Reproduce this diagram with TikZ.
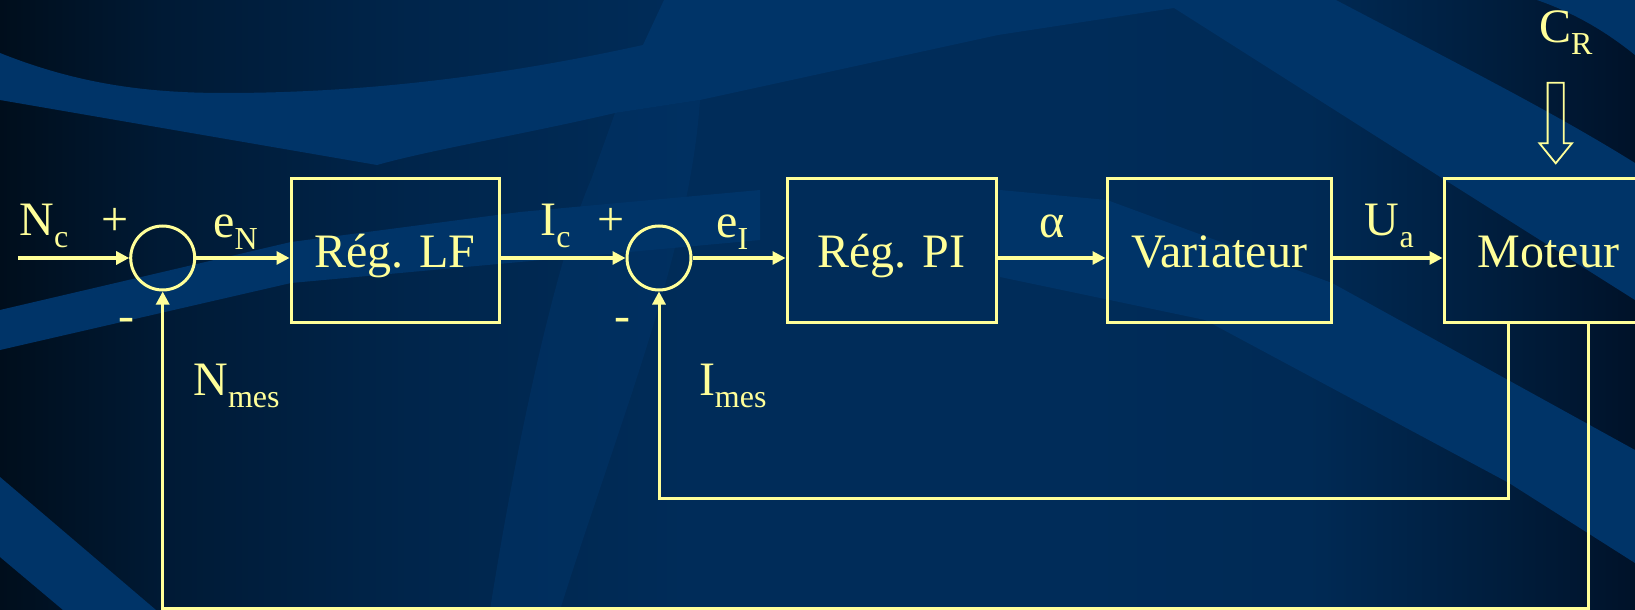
\documentclass[tikz,border=0pt]{standalone}
\usepackage{fontspec}
\setmainfont{Liberation Serif}
\usetikzlibrary{arrows.meta}
\definecolor{ylw}{HTML}{FFFF99}
\definecolor{bandc}{HTML}{003468}
\definecolor{gA}{HTML}{000E1C}
\definecolor{gB}{HTML}{001A35}
\definecolor{gC}{HTML}{00254B}
\definecolor{gD}{HTML}{002C59}
\definecolor{gE}{HTML}{002A55}
\definecolor{gF}{HTML}{001D3C}
\definecolor{gG}{HTML}{001229}
\pgfdeclarehorizontalshading{bgshade}{100bp}{color(0bp)=(gA); color(25bp)=(gA); color(30bp)=(gB); color(37.5bp)=(gC); color(46bp)=(gD); color(58bp)=(gD); color(65bp)=(gE); color(71bp)=(gF); color(75bp)=(gG); color(100bp)=(gG)}
\newcommand{\sbs}[1]{\raisebox{-6pt}{\fontsize{16}{16}\selectfont #1}}
\begin{document}
\begin{tikzpicture}[x=0.5pt,y=-0.5pt,
  line/.style={draw=ylw, line width=1.5pt},
  arr/.style={line, -{Triangle[length=6.5pt,width=6.5pt]}},
  blk/.style={draw=ylw, line width=1.5pt, text=ylw, minimum height=71.5pt, inner sep=0pt,
    font=\fontsize{24}{24}\selectfont, text height=24.5pt, text depth=8pt},
  sumc/.style={draw=ylw, line width=1.5pt, circle, minimum size=32pt, inner sep=0pt},
  lbl/.style={text=ylw, inner sep=0pt, font=\fontsize{24}{24}\selectfont},
  bg/.style={fill=bandc, draw=none}]
\useasboundingbox (0,0) rectangle (1635,610);
% background
\begin{scope}
\clip (0,0) rectangle (1635,610);
\shade[shading=bgshade] (0,0) rectangle (1635,610);
\path[bg, fill opacity=0.55] (615,113) -- (700,100) .. controls (690,250) and (620,420) .. (560,610)
  -- (490,610) .. controls (520,420) and (560,250) .. (591,180) -- cycle;
\path[bg] (0,53) .. controls (80,85) and (150,93) .. (225,93)
  .. controls (380,93) and (520,72) .. (643,45) -- (664,0) -- (1336,0)
  .. controls (1450,60) and (1550,110) .. (1635,163) -- (1635,300)
  -- (1445,180) -- (1174,8) -- (998,35) -- (700,100) -- (615,113)
  .. controls (520,135) and (430,150) .. (377,165) -- (0,100) -- cycle;
\path[bg] (1537,0) .. controls (1580,15) and (1610,35) .. (1635,55) -- (1635,0) -- cycle;
\path[bg] (0,310) -- (291,242) -- (520,212) -- (760,190) -- (760,240) -- (520,262) -- (291,283) -- (0,350) -- cycle;
\path[bg] (0,477) -- (156,610) -- (63,610) -- (0,557) -- cycle;
\path[bg] (1000,190) -- (1107,200) -- (1332,283) -- (1635,450) -- (1635,563)
  -- (1509,483) -- (1205,320) -- (1000,277) -- cycle;
\end{scope}
% blocks
\node[sumc] (s1) at (162.7,258) {};
\node[sumc] (s2) at (659,258) {};
\node[blk, minimum width=104pt] (lf) at (395,250.5) {Rég. LF};
\node[blk, minimum width=104.5pt] (pi) at (891.5,250.5) {Rég. PI};
\node[blk, minimum width=112pt] (var) at (1219,250.5) {Variateur};
\node[blk, minimum width=96.5pt] (mot) at (1540.5,250.5) {\hspace*{8pt}Moteur};
% labels
\node[lbl, anchor=base west] (lnc) at (19,235) {N\sbs{c}};
\node[lbl, anchor=base] (lp1) at (115,235) {+};
\node[lbl, anchor=base] (lm1) at (126,331) {-};
\node[lbl, anchor=base west] (len) at (213,237) {e\sbs{N}};
\node[lbl, anchor=base west] (lnm) at (193,395) {N\sbs{mes}};
\node[lbl, anchor=base west] (lic) at (540,235) {I\sbs{c}};
\node[lbl, anchor=base] (lp2) at (611,235) {+};
\node[lbl, anchor=base] (lm2) at (622.5,331) {-};
\node[lbl, anchor=base west] (lei) at (716,237) {e\sbs{I}};
\node[lbl, anchor=base west] (lim) at (698.6,395) {I\sbs{mes}};
\node[lbl, anchor=base] (lal) at (1052,237) {α};
\node[lbl, anchor=base west] (lua) at (1364.5,235) {U\sbs{a}};
\node[lbl, anchor=base west] (lcr) at (1538.7,43) {C\sbs{R}};
% connectors
\coordinate (in) at (18,258);
\draw[arr] (in) -- (s1.west);
\draw[arr] (s1.east) -- (s1.east -| lf.west);
\draw[arr] (lf.east |- s2.west) -- (s2.west);
\draw[arr] (s2.east) -- (s2.east -| pi.west);
\draw[arr] (pi.east |- s2.east) -- (var.west |- s2.east);
\draw[arr] (var.east |- s2.east) -- (mot.west |- s2.east);
\coordinate (k1) at (1508,498);
\coordinate (k2) at (1588,608.5);
\draw[arr] (k1 |- mot.south) -- (k1) -- (s2.south |- k1) -- (s2.south);
\draw[arr] (k2 |- mot.south) -- (k2) -- (s1.south |- k2) -- (s1.south);
% disturbance arrow C_R
\draw[draw=ylw, line width=0.9pt] (1547.6,82.7) -- (1563.8,82.7) -- (1563.8,143.3) -- (1571.9,143.3)
  -- (1555.7,163.3) -- (1539.5,143.3) -- (1547.6,143.3) -- cycle;
\end{tikzpicture}
\end{document}
